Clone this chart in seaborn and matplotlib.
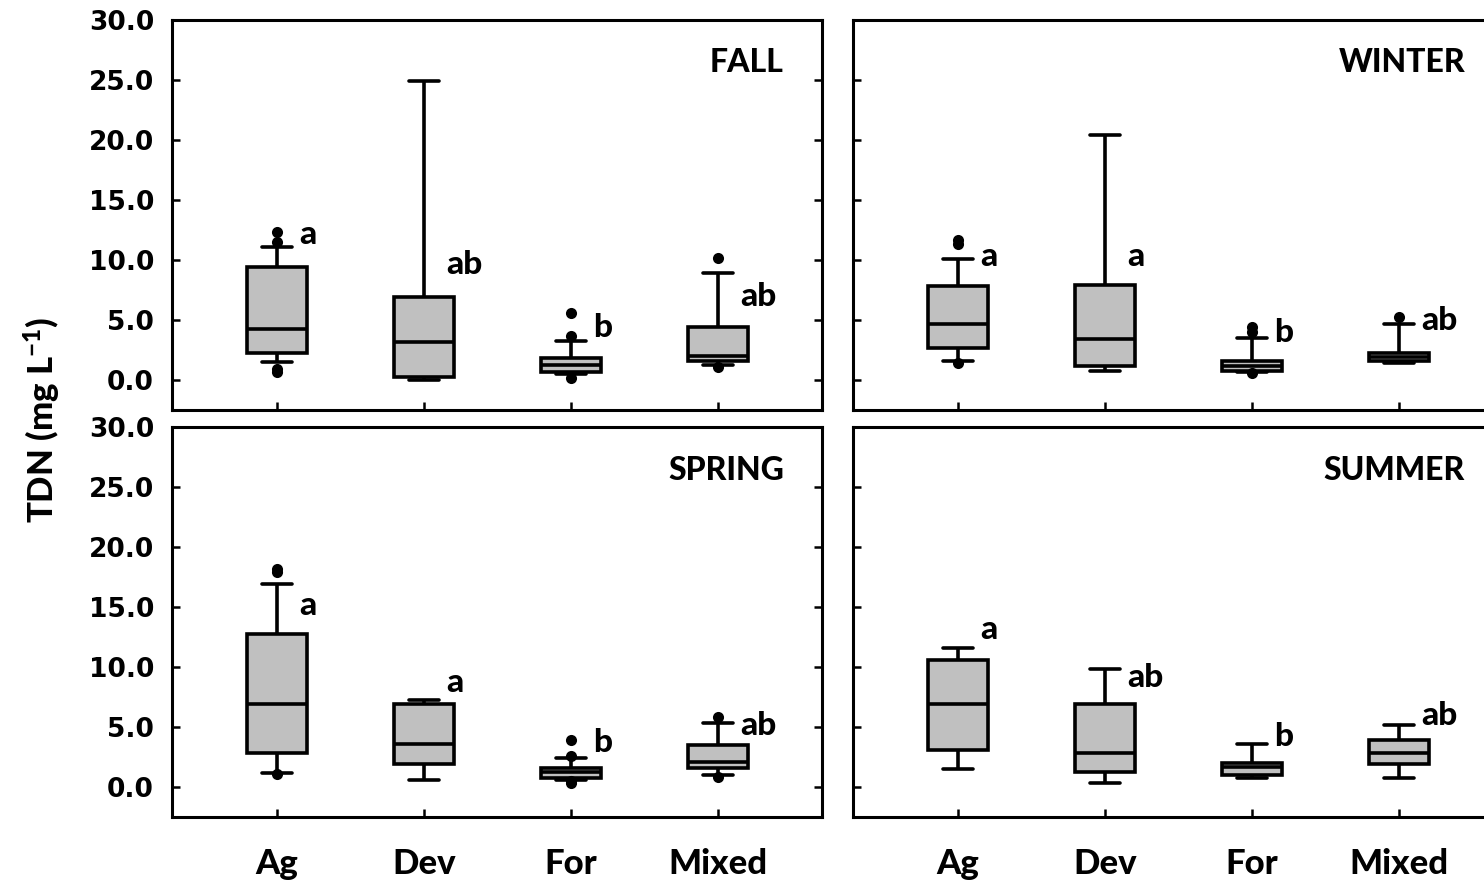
import numpy as np
import pandas as pd
import matplotlib
matplotlib.use("Agg")
import matplotlib.pyplot as plt
import seaborn as sns

land_uses = ["Ag", "Dev", "For", "Mixed"]
seasons = ["FALL", "WINTER", "SPRING", "SUMMER"]
y_ticks = [0.0, 5.0, 10.0, 15.0, 20.0, 25.0, 30.0]

# five-number summaries: [lower whisker, Q1, median, Q3, upper whisker]
fall_box = [[1.53, 2.25, 4.25, 9.44, 11.06],
            [0.00, 0.22, 3.14, 6.94, 24.90],
            [0.50, 0.64, 1.25, 1.80, 3.28],
            [1.25, 1.61, 2.03, 4.39, 8.90]]
winter_box = [[1.56, 2.67, 4.67, 7.83, 10.06],
              [0.72, 1.19, 3.42, 7.94, 20.44],
              [0.70, 0.72, 1.20, 1.61, 3.50],
              [1.45, 1.61, 1.89, 2.28, 4.67]]
spring_box = [[1.17, 2.83, 6.94, 12.78, 16.94],
              [0.56, 1.89, 3.61, 6.94, 7.28],
              [0.60, 0.78, 1.25, 1.61, 2.44],
              [0.97, 1.61, 2.08, 3.47, 5.33]]
summer_box = [[1.53, 3.11, 6.94, 10.61, 11.58],
              [0.33, 1.25, 2.86, 6.89, 9.86],
              [0.78, 0.97, 1.67, 2.03, 3.56],
              [0.78, 1.94, 2.86, 3.94, 5.19]]

# outlying points
fall_out = [[0.7, 0.9, 11.5, 12.3], [], [0.2, 3.7, 5.56], [1.1, 10.17]]
winter_out = [[1.4, 11.3, 11.7], [], [0.55, 4.0, 4.4], [5.28]]
spring_out = [[1.1, 17.9, 18.2], [], [0.35, 0.5, 2.6, 3.89], [0.85, 5.8]]
summer_out = [[], [], [], []]

# significance letters and their heights
fall_letters = ["a", "ab", "b", "ab"]
winter_letters = ["a", "a", "b", "ab"]
spring_letters = ["a", "a", "b", "ab"]
summer_letters = ["a", "ab", "b", "ab"]
fall_letter_y = [12.1, 9.6, 4.4, 7.0]
winter_letter_y = [10.25, 10.25, 4.0, 5.0]
spring_letter_y = [15.1, 8.7, 3.7, 5.1]
summer_letter_y = [13.1, 9.1, 4.2, 6.0]

boxes = [fall_box, winter_box, spring_box, summer_box]
outs = [fall_out, winter_out, spring_out, summer_out]
letters = [fall_letters, winter_letters, spring_letters, summer_letters]
letter_ys = [fall_letter_y, winter_letter_y, spring_letter_y, summer_letter_y]

sns.set_theme(style="ticks")
plt.rcParams["font.family"] = ["Lato", "DejaVu Sans"]
plt.rcParams["mathtext.fontset"] = "custom"
plt.rcParams["mathtext.rm"] = "Lato:black"
plt.rcParams["mathtext.bf"] = "Lato:black"
plt.rcParams["mathtext.it"] = "Lato:black"

TW = "black"  # text weight

W, H = 1484, 880
fig = plt.figure(figsize=(W / 100, H / 100), dpi=100)
panel_px = [(172, 20), (853, 20), (172, 427), (853, 427)]
pw, ph = 650, 390

for i, season in enumerate(seasons):
    x0, y0 = panel_px[i]
    ax = fig.add_axes([x0 / W, 1 - (y0 + ph) / H, pw / W, ph / H])
    rows = []
    for lu, vals in zip(land_uses, boxes[i]):
        for v in vals:
            rows.append({"land": lu, "tdn": v})
    df = pd.DataFrame(rows)
    sns.boxplot(data=df, x="land", y="tdn", order=land_uses, whis=(0, 100),
                width=0.41, color="#c0c0c0", saturation=1, linecolor="black",
                linewidth=2.6, fliersize=0, ax=ax)
    orows = []
    for lu, vals in zip(land_uses, outs[i]):
        for v in vals:
            orows.append({"land": lu, "tdn": v})
    if orows:
        odf = pd.DataFrame(orows)
        sns.stripplot(data=odf, x="land", y="tdn", order=land_uses, jitter=False,
                      color="black", size=8, ax=ax, zorder=5)
    for j, (lt, ly) in enumerate(zip(letters[i], letter_ys[i])):
        ax.text(j + 0.15, ly, lt, ha="left", va="center", fontsize=24,
                fontweight=TW, color="black")
    ax.text(1 - 38 / pw, 1 - 43 / ph, season, transform=ax.transAxes,
            ha="right", va="center", fontsize=23, fontweight=TW, color="black")
    ax.set_xlim(-0.714, 3.707)
    ax.set_ylim(-2.5, 30)
    ax.set_yticks(y_ticks)
    ax.set_yticklabels([f"{v:.1f}" for v in y_ticks], fontfamily="DejaVu Sans",
                       fontweight="bold", fontsize=19)
    ax.set_xticks(range(len(land_uses)))
    ax.set_xticklabels(land_uses, fontsize=25, fontweight=TW)
    ax.set_xlabel("")
    ax.set_ylabel("")
    for sp in ax.spines.values():
        sp.set_visible(True)
        sp.set_linewidth(2.2)
        sp.set_color("black")
    ax.tick_params(axis="y", direction="in", length=6, width=1.8, left=True,
                   right=True, pad=13, colors="black")
    ax.tick_params(axis="x", direction="in", length=6, width=1.8, bottom=True,
                   top=False, pad=22, colors="black")
    if i in (1, 3):
        ax.tick_params(axis="y", labelleft=False)
    if i in (0, 1):
        ax.tick_params(axis="x", labelbottom=False)

fig.text(42 / W, 1 - 420 / H, r"TDN (mg L$^{\mathbf{-1}}$)", rotation=90,
         ha="center", va="center", fontsize=25, fontweight=TW, color="black")

fig.savefig("out.png", dpi=100)
